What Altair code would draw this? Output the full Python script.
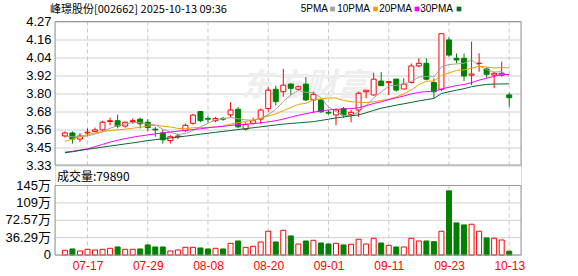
import json
import altair as alt
import pandas as pd

title_text = "峰璟股份[002662] 2025-10-13 09:36"
vol_text = "成交量:79890"
watermark = "东方财富"

dates = ["07-14", "07-15", "07-16", "07-17", "07-18", "07-21", "07-22", "07-23", "07-24", "07-25",
         "07-28", "07-29", "07-30", "07-31", "08-01", "08-04", "08-05", "08-06", "08-07", "08-08",
         "08-11", "08-12", "08-13", "08-14", "08-15", "08-18", "08-19", "08-20", "08-21", "08-22",
         "08-25", "08-26", "08-27", "08-28", "08-29", "09-01", "09-02", "09-03", "09-04", "09-05",
         "09-08", "09-09", "09-10", "09-11", "09-12", "09-15", "09-16", "09-17", "09-18", "09-19",
         "09-22", "09-23", "09-24", "09-25", "09-26", "09-29", "09-30", "10-09", "10-10", "10-13"]
date_ticks = ["07-17", "07-29", "08-08", "08-20", "09-01", "09-11", "09-23", "10-13"]

opens = [3.52, 3.54, 3.50, 3.54, 3.55, 3.56, 3.615, 3.62, 3.585, 3.615,
         3.63, 3.61, 3.565, 3.54, 3.49, 3.515, 3.555, 3.603, 3.68, 3.635,
         3.62, 3.635, 3.658, 3.695, 3.565, 3.603, 3.631, 3.70, 3.826, 3.81,
         3.86, 3.826, 3.86, 3.756, 3.756, 3.675, 3.658, 3.70, 3.662, 3.69,
         3.81, 3.789, 3.88, 3.87, 3.893, 3.828, 3.87, 3.979, 3.996, 3.87,
         3.826, 4.149, 4.029, 4.029, 3.918, 3.996, 3.959, 3.92, 3.918, 3.789]
highs = [3.55, 3.55, 3.54, 3.57, 3.575, 3.62, 3.64, 3.66, 3.615, 3.635,
         3.64, 3.63, 3.58, 3.56, 3.525, 3.535, 3.60, 3.665, 3.68, 3.65,
         3.645, 3.645, 3.74, 3.71, 3.61, 3.64, 3.70, 3.84, 3.85, 3.96,
         3.865, 3.85, 3.905, 3.81, 3.76, 3.69, 3.70, 3.71, 3.69, 3.81,
         3.82, 3.935, 3.94, 3.876, 3.893, 3.898, 3.995, 4.029, 4.029, 3.898,
         4.193, 4.166, 4.06, 4.06, 4.138, 4.062, 3.97, 3.941, 4.007, 3.804]
lows = [3.51, 3.47, 3.48, 3.52, 3.545, 3.555, 3.59, 3.57, 3.575, 3.60,
        3.57, 3.55, 3.515, 3.47, 3.47, 3.50, 3.545, 3.595, 3.61, 3.61,
        3.61, 3.62, 3.64, 3.57, 3.555, 3.595, 3.60, 3.68, 3.72, 3.777,
        3.79, 3.82, 3.75, 3.67, 3.67, 3.66, 3.59, 3.64, 3.61, 3.645,
        3.767, 3.784, 3.85, 3.789, 3.81, 3.828, 3.865, 3.97, 3.885, 3.767,
        3.815, 4.04, 3.996, 3.88, 3.854, 3.941, 3.90, 3.833, 3.909, 3.712]
closes = [3.54, 3.50, 3.52, 3.545, 3.56, 3.61, 3.62, 3.585, 3.61, 3.62,
          3.60, 3.575, 3.56, 3.495, 3.515, 3.52, 3.59, 3.657, 3.62, 3.63,
          3.635, 3.63, 3.69, 3.58, 3.595, 3.62, 3.69, 3.82, 3.745, 3.853,
          3.832, 3.843, 3.756, 3.793, 3.679, 3.67, 3.69, 3.658, 3.675, 3.80,
          3.82, 3.892, 3.85, 3.876, 3.821, 3.86, 3.979, 3.996, 3.892, 3.81,
          4.19, 4.05, 4.018, 3.913, 3.926, 3.996, 3.924, 3.931, 3.931, 3.771]
# volume in 万
volumes = [9.8, 12.6, 8.4, 11.9, 10.5, 11.9, 14.0, 16.8, 11.9, 11.9,
           12.6, 21.0, 16.8, 16.8, 8.4, 10.5, 16.0, 16.0, 14.7, 12.6,
           14.0, 12.6, 24.4, 29.3, 16.0, 18.1, 27.2, 49.6, 27.2, 51.7,
           39.8, 23.0, 29.3, 30.7, 25.1, 23.0, 24.4, 21.0, 22.3, 32.8,
           23.0, 34.9, 25.1, 20.2, 16.8, 16.8, 34.9, 29.3, 29.3, 27.9,
           49.6, 134.0, 67.0, 62.8, 64.2, 49.6, 35.6, 34.9, 31.4, 7.989]
ma5 = [3.52, 3.515, 3.515, 3.52, 3.533, 3.547, 3.571, 3.588, 3.598, 3.609,
       3.607, 3.598, 3.593, 3.565, 3.545, 3.53, 3.536, 3.555, 3.58, 3.603,
       3.626, 3.634, 3.641, 3.633, 3.626, 3.623, 3.635, 3.661, 3.694, 3.746,
       3.788, 3.819, 3.806, 3.805, 3.77, 3.71, 3.68, 3.655, 3.655, 3.675,
       3.72, 3.769, 3.807, 3.848, 3.852, 3.860, 3.877, 3.906, 3.910, 3.907,
       3.973, 3.988, 3.992, 3.996, 4.019, 3.981, 3.955, 3.938, 3.942, 3.911]
ma10 = [3.485, 3.50, 3.515, 3.53, 3.54, 3.548, 3.555, 3.56, 3.565, 3.571,
        3.577, 3.585, 3.590, 3.584, 3.579, 3.570, 3.567, 3.574, 3.575, 3.576,
        3.580, 3.585, 3.598, 3.607, 3.615, 3.625, 3.635, 3.651, 3.664, 3.686,
        3.706, 3.727, 3.734, 3.755, 3.764, 3.768, 3.769, 3.752, 3.745, 3.740,
        3.739, 3.744, 3.753, 3.761, 3.776, 3.795, 3.823, 3.857, 3.879, 3.880,
        3.917, 3.933, 3.949, 3.953, 3.963, 3.977, 3.972, 3.965, 3.969, 3.965]
ma20 = [3.414, 3.42, 3.428, 3.436, 3.45, 3.465, 3.48, 3.492, 3.503, 3.512,
        3.52, 3.527, 3.534, 3.54, 3.546, 3.552, 3.557, 3.562, 3.567, 3.574,
        3.579, 3.583, 3.589, 3.595, 3.597, 3.601, 3.606, 3.613, 3.620, 3.631,
        3.643, 3.656, 3.666, 3.676, 3.684, 3.69, 3.695, 3.697, 3.70, 3.705,
        3.718, 3.733, 3.744, 3.758, 3.770, 3.782, 3.796, 3.805, 3.812, 3.81,
        3.828, 3.839, 3.851, 3.857, 3.870, 3.886, 3.898, 3.911, 3.924, 3.922]
ma30 = [3.41, 3.417, 3.425, 3.433, 3.44, 3.447, 3.454, 3.461, 3.468, 3.475,
        3.482, 3.49, 3.496, 3.502, 3.507, 3.513, 3.519, 3.525, 3.532, 3.538,
        3.544, 3.55, 3.556, 3.562, 3.568, 3.574, 3.58, 3.586, 3.592, 3.598,
        3.602, 3.606, 3.61, 3.614, 3.622, 3.63, 3.638, 3.645, 3.652, 3.658,
        3.672, 3.688, 3.702, 3.712, 3.722, 3.731, 3.74, 3.75, 3.758, 3.766,
        3.798, 3.81, 3.82, 3.83, 3.843, 3.851, 3.858, 3.86, 3.861, 3.862]

price_ticks = [3.33, 3.4475, 3.565, 3.6825, 3.80, 3.9175, 4.035, 4.1525, 4.27]
price_labels = ["3.33", "3.45", "3.56", "3.68", "3.80", "3.92", "4.04", "4.16", "4.27"]
vol_ticks = [0, 36.285, 72.57, 108.855, 145.14]
vol_labels = ["0", "36.29万", "72.57万", "109万", "145万"]

legend_names = ["5PMA", "10PMA", "20PMA", "30PMA"]
legend_colors = ["#a0a0a0", "#f0a000", "#ff00ff", "#006b2e"]

RED = "#ff0000"
GREEN = "#008000"
GRID = "#d0d0d0"
FRAME = "#999999"
FONT = "Liberation Sans, Noto Sans CJK SC"

W = 466
H_TOP = 143.5
V_TOP = 164.0
H_ALL = 233.5

df = pd.DataFrame({"i": list(range(len(dates))), "date": dates, "open": opens, "high": highs,
                   "low": lows, "close": closes, "vol": volumes,
                   "ma5": ma5, "ma10": ma10, "ma20": ma20, "ma30": ma30})
df["up"] = df["close"] >= df["open"]

tick_idx = [dates.index(d) for d in date_ticks]
xscale = alt.Scale(domain=[-0.65, 59.9], nice=False, zero=False)
yscale = alt.Scale(domain=[3.33, 4.27], range=[H_TOP, 0], nice=False, zero=False)
vscale = alt.Scale(domain=[0, 145.14], range=[H_ALL, V_TOP], nice=False, zero=False)

price_expr = f"{json.dumps(price_labels)}[indexof({json.dumps(price_ticks)}, datum.value)]"
date_expr = f"{json.dumps(dates)}[datum.value]"

x_axis = alt.Axis(values=tick_idx, labelExpr=date_expr, ticks=False, domain=False, grid=False,
                  title=None, labelColor=RED, labelFontSize=12, labelPadding=5,
                  labelFlush=False, labelOverlap=False, labelFont=FONT)
y_axis = alt.Axis(values=price_ticks, labelExpr=price_expr, ticks=False, domain=False, grid=True,
                  gridColor=GRID, title=None, labelFontSize=13, labelPadding=4,
                  labelColor="#000", labelFont=FONT, labelFlush=False, labelOverlap=False)

X = alt.X("i:Q", scale=xscale, axis=x_axis)
up_color = alt.condition("datum.up", alt.value(RED), alt.value(GREEN))
up_fill = alt.condition("datum.up", alt.value("white"), alt.value(GREEN))
base = alt.Chart(df)

# vertical dashed grid lines, one set per panel
vt_df = pd.DataFrame({"i": tick_idx})
vgrid_top = alt.Chart(vt_df).mark_rule(strokeDash=[4, 3], color="#c8c8c8", strokeWidth=1).encode(
    x=X, y=alt.value(0), y2=alt.value(H_TOP))
vgrid_bot = alt.Chart(vt_df).mark_rule(strokeDash=[4, 3], color="#c8c8c8", strokeWidth=1).encode(
    x=X, y=alt.value(V_TOP), y2=alt.value(H_ALL))

# volume grid lines and labels drawn through the volume scale
vt = pd.DataFrame({"v": vol_ticks, "lab": vol_labels})
vgrid_h = alt.Chart(vt).mark_rule(color=GRID, strokeWidth=1).encode(
    x=alt.value(0), x2=alt.value(W), y=alt.Y("v:Q", scale=vscale, axis=None))
vlabels = alt.Chart(vt).mark_text(align="right", baseline="middle", fontSize=13, font=FONT,
                                  color="#000").encode(
    x=alt.value(-4), y=alt.Y("v:Q", scale=vscale, axis=None), text="lab:N")

wm = alt.Chart(pd.DataFrame({"t": [watermark]})).mark_text(
    fontSize=32, fontWeight="bold", fontStyle="italic", color="#eeeeee", font="Noto Sans CJK SC"
).encode(text="t:N", x=alt.value(250), y=alt.value(64))

wicks = base.mark_rule(strokeWidth=1).encode(
    x=X, y=alt.Y("low:Q", scale=yscale, axis=y_axis), y2="high:Q", color=up_color)
bodies = base.mark_bar(size=5, strokeWidth=1).encode(
    x=X, y=alt.Y("open:Q", scale=yscale, axis=None), y2="close:Q",
    fill=up_fill, stroke=up_color)

ma_layers = []
for field, col in zip(["ma5", "ma10", "ma20", "ma30"], legend_colors):
    ma_layers.append(base.mark_line(strokeWidth=1, color=col).encode(
        x=X, y=alt.Y(f"{field}:Q", scale=yscale, axis=None)))

vbars = base.mark_bar(size=5, strokeWidth=1).encode(
    x=X, y=alt.Y("vol:Q", scale=vscale, axis=None), fill=up_fill, stroke=up_color)

frame_df = pd.DataFrame({"y0": [0, V_TOP], "y1": [H_TOP, H_ALL]})
frames = alt.Chart(frame_df).mark_rect(fillOpacity=0, stroke=FRAME, strokeWidth=1).encode(
    x=alt.value(0), x2=alt.value(W),
    y=alt.Y("y0:Q", scale=None), y2=alt.Y2("y1:Q"))

title_mark = alt.Chart(pd.DataFrame({"t": [title_text]})).mark_text(
    align="left", baseline="middle", fontSize=11, font="Noto Sans CJK SC", color="#000"
).encode(text="t:N", x=alt.value(-5), y=alt.value(-12))

leg_df = pd.DataFrame({"name": legend_names, "color": legend_colors,
                       "tx": [273, 315, 357, 398], "sx": [277.5, 320.5, 362, 404]})
leg_text = alt.Chart(leg_df).mark_text(
    align="right", baseline="middle", fontSize=10, font="Liberation Sans", color="#000"
).encode(text="name:N", x=alt.X("tx:Q", scale=None), y=alt.value(-12.5))
leg_sq = alt.Chart(leg_df).mark_square(size=22, opacity=1).encode(
    x=alt.X("sx:Q", scale=None), y=alt.value(-12.5),
    color=alt.Color("color:N", scale=None))

vol_mark = alt.Chart(pd.DataFrame({"t": [vol_text]})).mark_text(
    align="left", baseline="middle", fontSize=12, font="Noto Sans CJK SC", color="#000"
).encode(text="t:N", x=alt.value(2), y=alt.value(V_TOP - 8.5))

chart = alt.layer(
    vgrid_top, vgrid_bot, vgrid_h, wm, wicks, bodies, *ma_layers, vbars, frames,
    vlabels, title_mark, leg_text, leg_sq, vol_mark
).resolve_scale(y="independent").properties(
    width=W, height=H_ALL,
    autosize=alt.AutoSizeParams(type="none"),
    padding={"left": 55, "top": 21.5, "right": 57, "bottom": 21},
).configure_view(stroke=None).configure(background="white")

chart.save("out.html", embed_options={"renderer": "svg", "actions": False})
